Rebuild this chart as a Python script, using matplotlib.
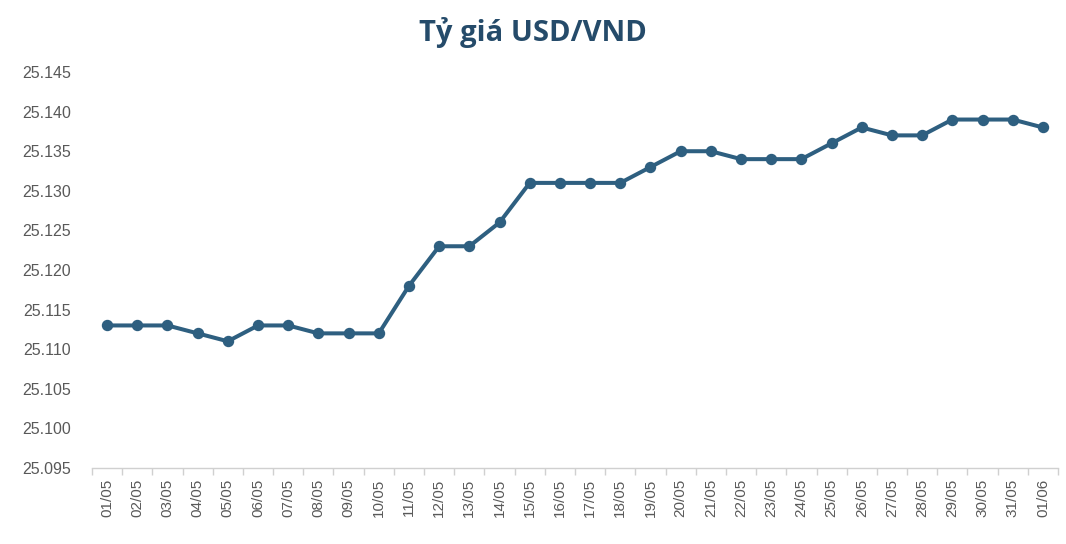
import matplotlib.pyplot as plt
from matplotlib.ticker import FuncFormatter, MultipleLocator, FixedLocator

dates = ["01/05", "02/05", "03/05", "04/05", "05/05", "06/05", "07/05", "08/05",
         "09/05", "10/05", "11/05", "12/05", "13/05", "14/05", "15/05", "16/05",
         "17/05", "18/05", "19/05", "20/05", "21/05", "22/05", "23/05", "24/05",
         "25/05", "26/05", "27/05", "28/05", "29/05", "30/05", "31/05", "01/06"]

rate = [25113, 25113, 25113, 25112, 25111, 25113, 25113, 25112,
        25112, 25112, 25118, 25123, 25123, 25126, 25131, 25131,
        25131, 25131, 25133, 25135, 25135, 25134, 25134, 25134,
        25136, 25138, 25137, 25137, 25139, 25139, 25139, 25138]

plt.rcParams['font.family'] = ['Liberation Sans', 'DejaVu Sans']

fig = plt.figure(figsize=(10.66, 5.44), dpi=100)
ax = fig.add_axes([0.0863, 0.1397, 0.9062, 0.7279])

x = list(range(len(dates)))
ax.plot(x, rate, color="#2E5F80", linewidth=2.9, marker="o", markersize=7.2,
        solid_joinstyle="round")

ax.set_xlim(-0.5, len(dates) - 0.5)
ax.set_ylim(25095, 25145)
ax.yaxis.set_major_locator(MultipleLocator(5))
ax.yaxis.set_major_formatter(FuncFormatter(lambda v, p: f"{int(round(v)):,}".replace(",", ".")))

ax.set_xticks(x)
ax.set_xticklabels(dates, rotation=90, fontsize=11, color="#595959")
ax.tick_params(axis="x", length=0, pad=8)
ax.xaxis.set_minor_locator(FixedLocator([i - 0.5 for i in range(len(dates) + 1)]))
ax.tick_params(axis="x", which="minor", length=5, color="#D0D0D0", width=1)

ax.tick_params(axis="y", length=0, labelsize=11.5, labelcolor="#595959", pad=15)

for s in ["top", "right", "left"]:
    ax.spines[s].set_visible(False)
ax.spines["bottom"].set_color("#D0D0D0")
ax.spines["bottom"].set_linewidth(1)

fig.text(0.5, 0.94, "Tỷ giá USD/VND", ha="center", va="center",
         fontsize=21, fontweight="bold", color="#254B6A",
         family=["Open Sans", "DejaVu Sans"])

fig.savefig("out.png", dpi=100)
